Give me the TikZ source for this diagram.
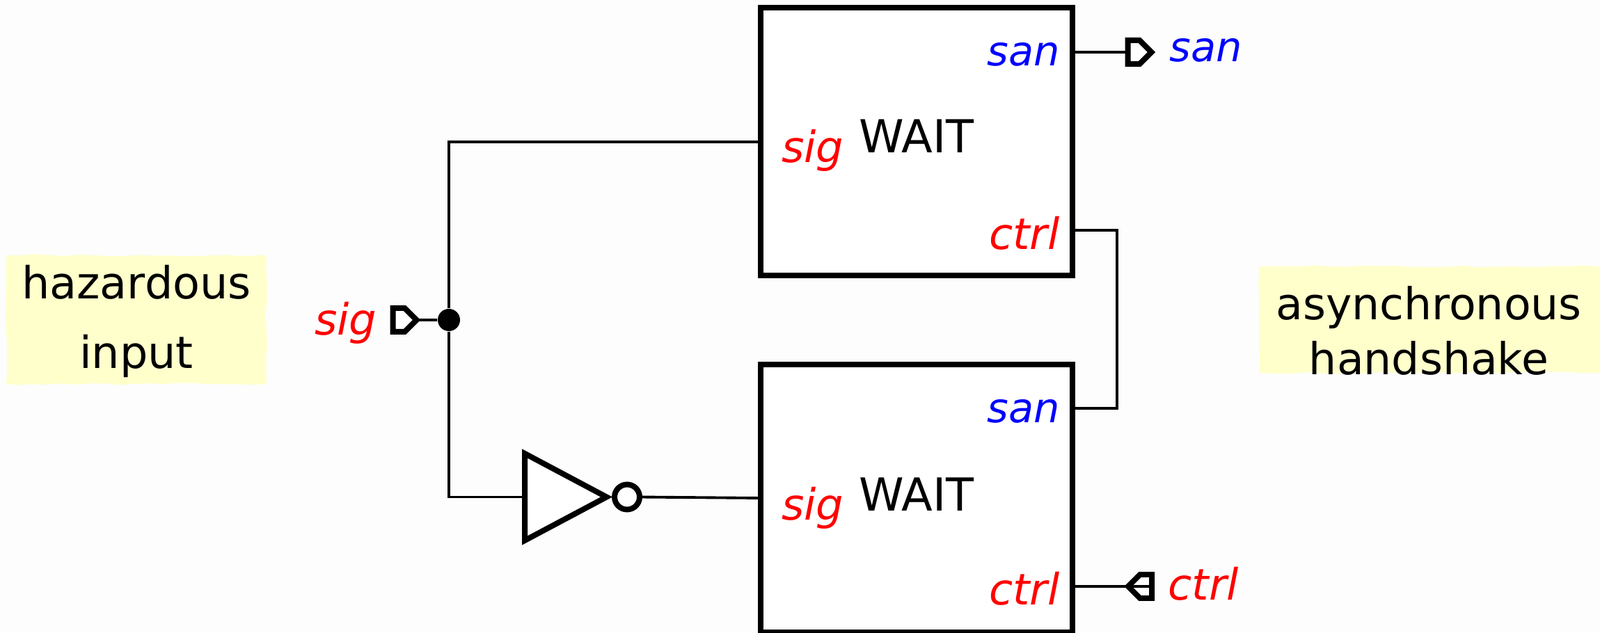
\documentclass[tikz,border=0pt]{standalone}
\usepackage{fontspec}
\setmainfont{DejaVu Sans}
\usetikzlibrary{shapes.geometric,shapes.symbols,decorations.pathmorphing}
\definecolor{notecolor}{HTML}{FFFFCC}
\definecolor{pagecolor}{HTML}{FDFDFD}
\tikzset{
  block/.style={draw, fill=white, line width=2.27pt, minimum width=4.48cm, minimum height=3.85cm, inner sep=0pt},
  wire/.style={line width=1.1pt},
  note/.style={inner sep=0pt, align=center, font=\fontsize{18.1}{28.45}\selectfont},
  shade/.style={fill=notecolor, decorate, decoration={random steps, segment length=6pt, amplitude=0.4pt}},
  title/.style={font=\fontsize{18.6}{22}\selectfont},
  sigtext/.style={font=\fontsize{17.7}{22}\selectfont\itshape, text=red, inner sep=0pt},
  santext/.style={font=\fontsize{16.8}{22}\selectfont\itshape, text=blue, inner sep=0pt},
  port/.style={draw, signal, line width=2.27pt, minimum width=0.34cm, minimum height=0.34cm, inner sep=0pt, outer sep=0pt, fill=white},
}
\begin{document}
\begin{tikzpicture}
    \useasboundingbox[fill=pagecolor] (0, 0) rectangle (22.99, 9.10);

    % notes
    \path[shade] (0.09, 3.58) rectangle (3.83, 5.43);
    \path[shade] (18.09, 3.74) rectangle (22.99, 5.27);
    \node[note] (hazard) at (1.96, 4.485) {hazardous\\input};
    \node[note, font=\fontsize{18}{22.5}\selectfont] (async) at (20.53, 4.35) {asynchronous\\handshake};

    % blocks
    \node[block] (waitA) at (13.17, 7.065) {};
    \node[block] (waitB) at (13.17, 1.935) {};
    \node[title] (waitAt) at (13.17, 7.14) {WAIT};
    \node[title] (waitBt) at (13.17, 1.99) {WAIT};

    % pins on the blocks
    \coordinate (sigA) at (10.93, 7.06);
    \coordinate (sanA) at (15.41, 8.35);
    \coordinate (ctrlA) at (15.41, 5.79);
    \coordinate (sigB) at (10.93, 1.94);
    \coordinate (sanB) at (15.41, 3.23);
    \coordinate (ctrlB) at (15.41, 0.67);
    \coordinate (bendA) at (16.05, 5.79);
    \coordinate (bendB) at (16.05, 3.23);

    % pin labels
    \node[santext, anchor=base east] (sanAt) at (15.235, 8.15) {san};
    \node[sigtext, anchor=base east] (ctrlAt) at (15.235, 5.51) {ctrl};
    \node[sigtext, anchor=base east] (sigAt) at (12.13, 6.76) {sig};
    \node[santext, anchor=base east] (sanBt) at (15.235, 3.02) {san};
    \node[sigtext, anchor=base east] (ctrlBt) at (15.235, 0.40) {ctrl};
    \node[sigtext, anchor=base east] (sigBt) at (12.13, 1.62) {sig};

    % ports
    \node[port] (sigIn) at (5.73, 4.50) {};
    \node[port] (sanOut) at (16.29, 8.35) {};
    \node[port, signal to=west] (ctrlIn) at (16.465, 0.67) {};
    \node[sigtext, anchor=base east] (sigInt) at (5.42, 4.28) {sig};
    \node[santext, anchor=base west] (sanOutt) at (16.80, 8.21) {san};
    \node[sigtext, anchor=base west] (ctrlInt) at (16.78, 0.47) {ctrl};

    % inverter
    \coordinate (invTop) at (7.54, 2.58);
    \coordinate (invBot) at (7.54, 1.33);
    \coordinate (invTip) at (8.715, 1.955);
    \coordinate (invIn) at (7.54, 1.955);
    \draw[fill=white, line width=2.27pt] (invTop) -- (invTip) -- (invBot) -- cycle;
    \node[draw, fill=white, line width=2.27pt, circle, minimum size=0.36cm, inner sep=0pt, outer sep=0pt]
      (bubble) at (9.01, 1.955) {};

    % wires
    \node[fill=black, circle, minimum size=0.32cm, inner sep=0pt] (fork) at (6.45, 4.50) {};
    \draw[wire] (sigIn.east) -- (fork);
    \draw[wire] (fork) |- (sigA);
    \draw[wire] (fork) |- (invIn);
    \draw[wire] (bubble.east) -- (sigB);
    \draw[wire] (sanA) -- (sanOut.west);
    \draw[wire] (ctrlA) -- (bendA) -- (bendB) -- (sanB);
    \draw[wire] (ctrlB) -- (ctrlIn.east);
\end{tikzpicture}
\end{document}
